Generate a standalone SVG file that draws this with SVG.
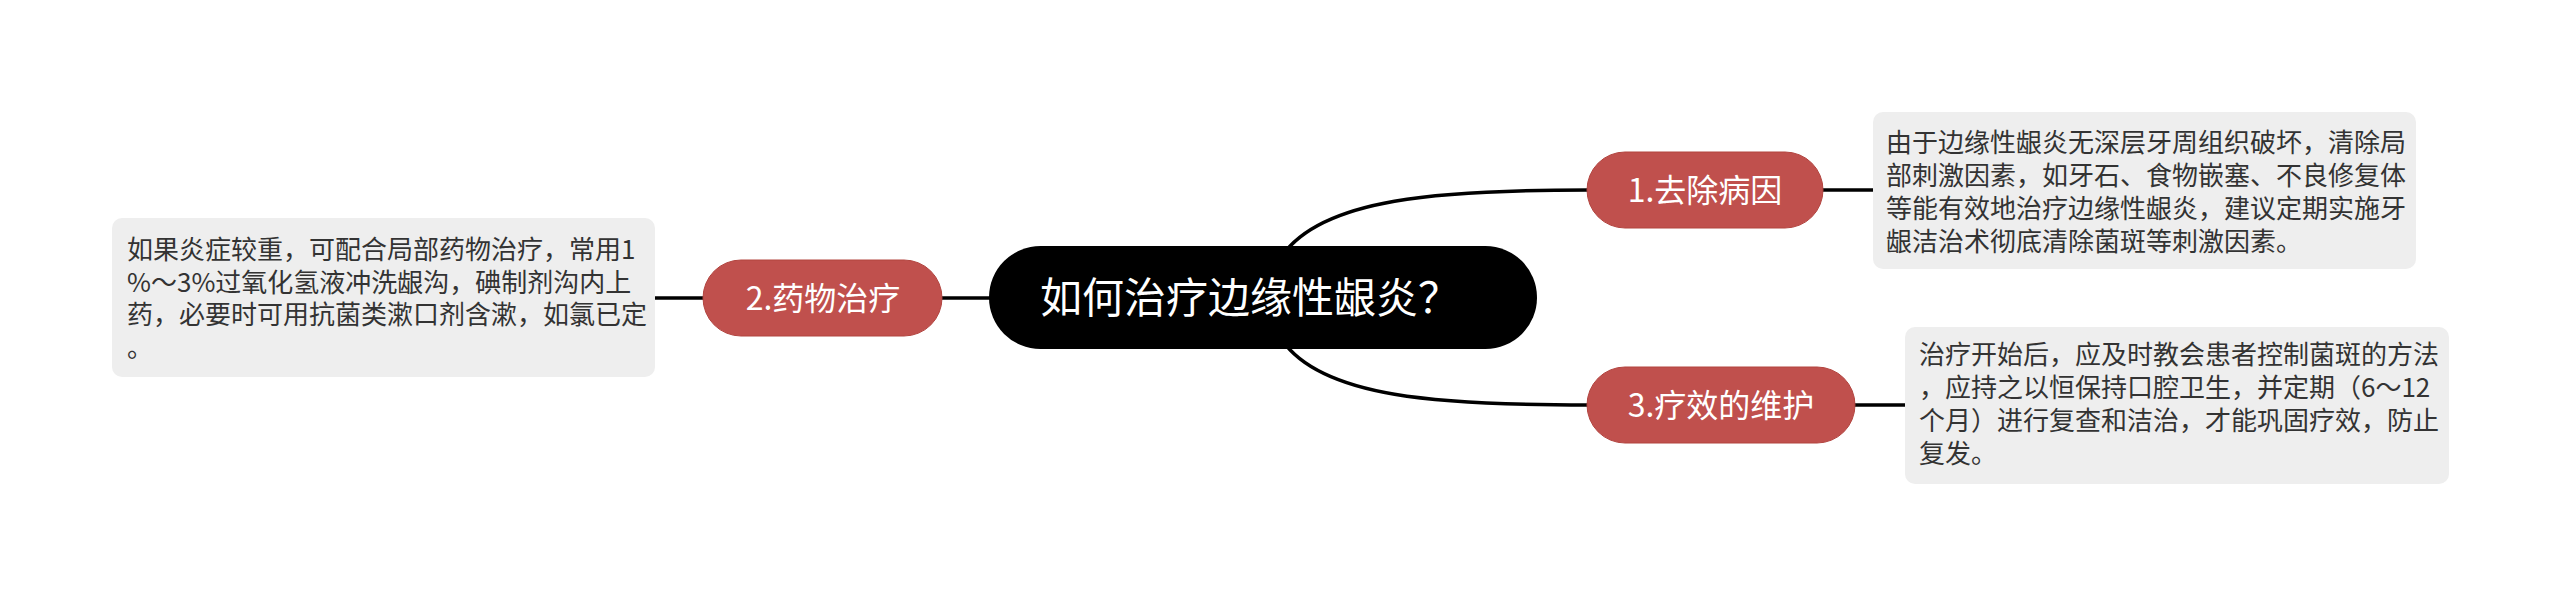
<svg xmlns="http://www.w3.org/2000/svg" width="2560" height="596" viewBox="0 0 2560 596">
<style>
.bg{fill:#ffffff}
.conn{fill:none;stroke:#000000;stroke-width:3.5;stroke-linecap:butt}
.root{fill:#000000}
.rootText{fill:#ffffff;font-family:"Noto Sans CJK SC","Noto Sans",sans-serif;font-size:42px}
.topic{fill:#c0504d;stroke:#b2443f;stroke-width:1}
.topicText{fill:#ffffff;font-family:"Noto Sans CJK SC","Noto Sans",sans-serif;font-size:32px;text-anchor:middle}
.note{fill:#eeeeee}
.noteText{fill:#333333;font-family:"Noto Sans CJK SC","Noto Sans",sans-serif;font-size:26px}
</style>
<rect class="bg" x="0" y="0" width="2560" height="596"/>
<g id="connectors">
<path class="conn" d="M1282 256 C1322 198, 1440 190, 1588 190"/>
<path class="conn" d="M1282 340 C1322 398, 1440 405, 1588 405"/>
<path class="conn" d="M942 298 L992 298"/>
<path class="conn" d="M655 298 L704 298"/>
<path class="conn" d="M1822 190 L1874 190"/>
<path class="conn" d="M1854 405 L1906 405"/>
</g>
<g id="root">
<rect class="root" x="989" y="246" width="548" height="103" rx="51.5" ry="51.5"/>
<text class="rootText" x="1040" y="313">如何治疗边缘性龈炎？</text>
</g>
<g id="topic1">
<rect class="topic" x="1587" y="152" width="236" height="76" rx="38" ry="38"/>
<text class="topicText" x="1705" y="202">1.去除病因</text>
</g>
<g id="topic2">
<rect class="topic" x="703" y="260" width="239" height="76" rx="38" ry="38"/>
<text class="topicText" x="823" y="310">2.药物治疗</text>
</g>
<g id="topic3">
<rect class="topic" x="1587" y="367" width="268" height="76" rx="38" ry="38"/>
<text class="topicText" x="1721" y="417">3.疗效的维护</text>
</g>
<g id="note1">
<rect class="note" x="1873" y="112" width="543" height="157" rx="10" ry="10"/>
<text class="noteText">
<tspan x="1886" y="152">由于边缘性龈炎无深层牙周组织破坏，清除局</tspan>
<tspan x="1886" y="185">部刺激因素，如牙石、食物嵌塞、不良修复体</tspan>
<tspan x="1886" y="218">等能有效地治疗边缘性龈炎，建议定期实施牙</tspan>
<tspan x="1886" y="251">龈洁治术彻底清除菌斑等刺激因素。</tspan>
</text>
</g>
<g id="note2">
<rect class="note" x="112" y="218" width="543" height="159" rx="10" ry="10"/>
<text class="noteText">
<tspan x="127" y="259">如果炎症较重，可配合局部药物治疗，常用1</tspan>
<tspan x="127" y="292">%～3%过氧化氢液冲洗龈沟，碘制剂沟内上</tspan>
<tspan x="127" y="324">药，必要时可用抗菌类漱口剂含漱，如氯已定</tspan>
<tspan x="127" y="357">。</tspan>
</text>
</g>
<g id="note3">
<rect class="note" x="1905" y="327" width="544" height="157" rx="10" ry="10"/>
<text class="noteText">
<tspan x="1919" y="364">治疗开始后，应及时教会患者控制菌斑的方法</tspan>
<tspan x="1919" y="397">，应持之以恒保持口腔卫生，并定期（6～12</tspan>
<tspan x="1919" y="430">个月）进行复查和洁治，才能巩固疗效，防止</tspan>
<tspan x="1919" y="463">复发。</tspan>
</text>
</g>
</svg>
